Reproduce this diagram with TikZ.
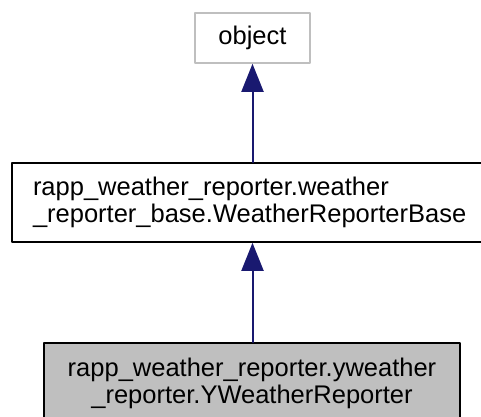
\documentclass[tikz,border=0pt]{standalone}
\usepackage{fontspec}
\setmainfont{Liberation Sans}
\usetikzlibrary{arrows.meta}

\definecolor{edgeblue}{RGB}{25,25,112}
\definecolor{boxgray}{RGB}{191,191,191}
\definecolor{fillgray}{RGB}{191,191,191}

\begin{document}
\begin{tikzpicture}[x=1pt, y=-1pt, line cap=round, line join=round,
  font=\fontsize{25.5}{27}\selectfont,
  classbox/.style={draw=black, line width=1.6pt, inner ysep=0pt},
  edge/.style={draw=edgeblue, line width=2pt, -{Triangle[length=28pt,width=22pt]}}]

% Khung hình
\useasboundingbox (0,0) rectangle (481,416);

% Lớp gốc object
\node[classbox, draw=boxgray, minimum width=115pt, minimum height=50pt] (obj) at (252.5,38) {object};

% Lớp cơ sở WeatherReporterBase (lề phải bị cắt)
\node[classbox, text width=440pt, inner xsep=21pt, minimum height=79pt, align=left] (base) at (253,202.5)
  {rapp\_weather\_reporter.weather\\\_reporter\_base.WeatherReporterBase};

% Lớp YWeatherReporter (lề dưới bị cắt)
\node[classbox, fill=fillgray, minimum width=416pt, minimum height=80pt, align=center] (yw) at (252,383)
  {rapp\_weather\_reporter.yweather\\\_reporter.YWeatherReporter};

% Các mũi tên kế thừa
\draw[edge] (obj.south |- base.north) -- (obj.south);
\draw[edge] (obj.south |- yw.north) -- (obj.south |- base.south);

\end{tikzpicture}
\end{document}
